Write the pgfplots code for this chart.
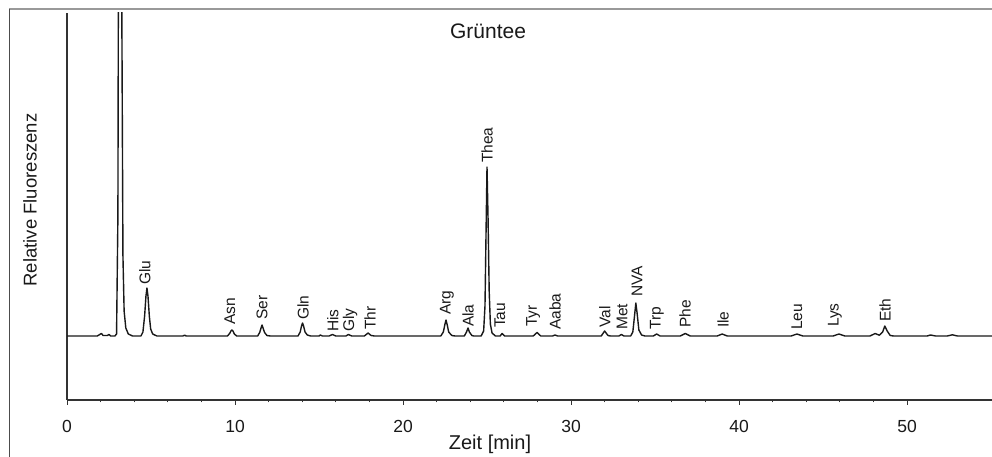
\documentclass[border=0pt]{standalone}
\usepackage{fontspec}
\setmainfont{Liberation Sans}
\usepackage{pgfplots}
\pgfplotsset{compat=1.18}

% Chromatogram trace: retention time [min] vs. fluorescence above baseline
\pgfplotstableread{
t s
0 0
1.8 0
1.95 1.5
2.05 2.5
2.15 0.5
2.4 0.5
2.5 1.5
2.6 0
2.85 0
2.95 2
3.03 120
3.09 600
3.15 1400
3.21 900
3.27 300
3.33 80
3.40 25
3.50 8
3.65 2
3.9 0
4.40 0
4.52 4
4.62 20
4.70 40
4.76 48
4.82 40
4.90 20
4.98 7
5.10 2
5.35 0
6.9 0
7.0 0.8
7.1 0
9.55 0
9.68 2.5
9.76 5
9.82 6
9.88 5
9.96 2
10.1 0
11.35 0
11.47 3.5
11.55 8
11.61 11
11.67 8
11.76 3.5
11.9 0.5
12.1 0
13.75 0
13.88 4
13.96 10
14.02 13
14.08 10
14.17 4
14.3 1
14.5 0
15.0 0
15.08 1
15.2 0
15.6 0
15.8 1.5
16.0 0
16.6 0
16.75 1.5
16.95 0
17.7 0
17.92 3
18.1 0.5
18.3 0
22.25 0
22.4 4
22.5 12
22.56 16
22.62 12
22.72 4
22.9 0.5
23.1 0
23.65 0
23.78 4
23.87 8
23.95 4
24.1 0.5
24.2 0
24.65 0
24.8 5
24.88 30
24.94 100
25.0 169
25.06 120
25.13 45
25.2 12
25.3 3
25.5 0
25.78 0
25.9 2.5
26.05 0
27.75 0
27.98 3.5
28.2 0
28.9 0
29.05 1
29.2 0
31.8 0
32.0 5
32.2 0.5
32.35 0
32.85 0
33.0 1.5
33.15 0
33.55 0
33.68 4
33.78 20
33.86 33
33.94 22
34.04 6
34.2 1
34.4 0
34.9 0
35.1 2
35.3 0
36.5 0
36.8 2.5
37.1 0
38.7 0
39.0 2
39.3 0
43.1 0
43.45 2
43.8 0
45.6 0
45.95 2
46.3 0
47.8 0
48.1 2.5
48.35 0.8
48.55 4
48.68 10
48.82 5
49.0 0.5
49.2 0
51.2 0
51.4 1
51.7 0
52.4 0
52.7 1.2
53.0 0
55.1 0
}\trace

\tikzset{lab/.style={rotate=90, anchor=west, inner sep=0pt,
    font=\fontsize{15.5}{18}\selectfont, text=black!90}}

\begin{document}
\begin{tikzpicture}[x=1pt,y=1pt]
\useasboundingbox (0,0) rectangle (992,457);
% outer frame
\draw[black!40, line width=1.3pt] (9,448) -- (992,448);
\draw[black!70, line width=0.8pt] (9,448) -- (9,0);

\begin{axis}[
  at={(67pt,57pt)}, anchor=south west,
  scale only axis, width=925pt, height=387pt,
  xmin=0, xmax=55.06, ymin=-64, ymax=323,
  axis x line=bottom, axis y line=left,
  axis line style={-, black!80, line width=1.3pt},
  xtick={0,10,...,50}, minor x tick num=4, ytick=\empty,
  tick align=outside,
  major tick length=5pt, minor tick length=2.5pt,
  every tick/.style={black!80, line width=1pt},
  /pgf/number format/assume math mode=true,
  xticklabel style={font=\fontsize{17.5}{20}\selectfont, text=black!90, yshift=-12pt},
  clip=true,
]
\addplot[black!90, line width=1.4pt, line join=round] table[x=t, y=s] {\trace};

\node[lab] at (axis cs:4.64,51) {Glu};
\node[lab] at (axis cs:9.70,11) {Asn};
\node[lab] at (axis cs:11.61,16) {Ser};
\node[lab] at (axis cs:14.05,16) {Gln};
\node[lab] at (axis cs:15.83,4) {His};
\node[lab] at (axis cs:16.85,4) {Gly};
\node[lab] at (axis cs:18.04,6) {Thr};
\node[lab] at (axis cs:22.62,21) {Arg};
\node[lab] at (axis cs:23.87,9) {Ala};
\node[lab] at (axis cs:25.0,173) {Thea};
\node[lab] at (axis cs:25.77,8) {Tau};
\node[lab] at (axis cs:27.74,9) {Tyr};
\node[lab] at (axis cs:29.05,6) {Aaba};
\node[lab] at (axis cs:32.02,8) {Val};
\node[lab] at (axis cs:33.04,6) {Met};
\node[lab] at (axis cs:33.93,39) {NVA};
\node[lab] at (axis cs:35.12,6) {Trp};
\node[lab] at (axis cs:36.79,8) {Phe};
\node[lab] at (axis cs:39.05,8) {Ile};
\node[lab] at (axis cs:43.45,6) {Leu};
\node[lab] at (axis cs:45.71,9) {Lys};
\node[lab] at (axis cs:48.69,14) {Eth};
\end{axis}

\node[font=\fontsize{21}{24}\selectfont, text=black!90] at (488,426) {Grüntee};
\node[font=\fontsize{20}{23}\selectfont, text=black!90, anchor=base] at (490,7) {Zeit [min]};
\node[font=\fontsize{18.5}{22}\selectfont, text=black!90, rotate=90] at (30,257) {Relative Fluoreszenz};
\end{tikzpicture}
\end{document}
